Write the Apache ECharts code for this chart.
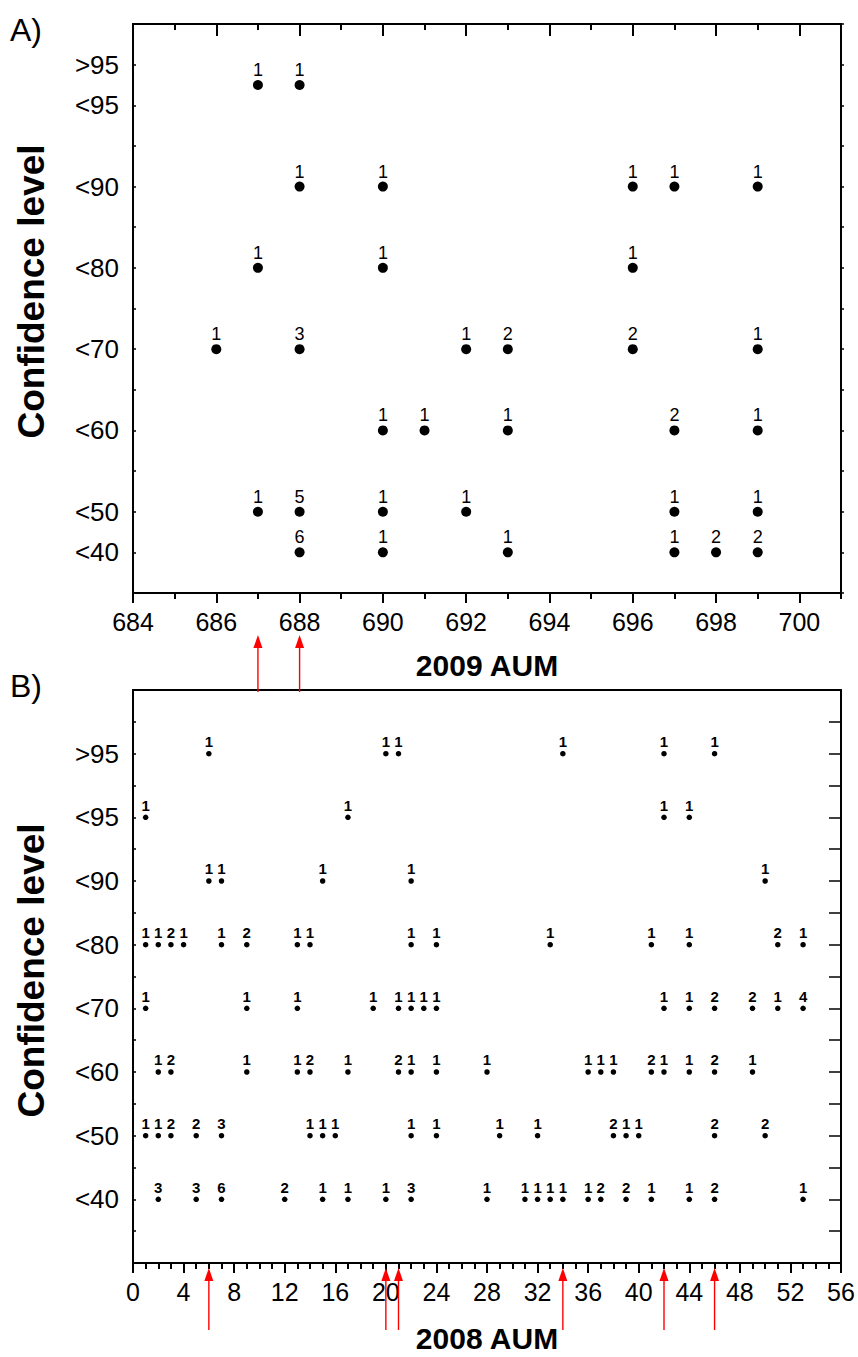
<!DOCTYPE html>
<html><head><meta charset="utf-8">
<script src="https://cdn.jsdelivr.net/npm/echarts@6/dist/echarts.min.js"></script>
<style>html,body{margin:0;padding:0;background:#fff}#c{width:858px;height:1357px}</style>
</head><body><div id="c"></div>
<script>
// ---------- data ----------
const yLabelValuesA = [1, 2, 4, 6, 8, 10, 12, 13];
const yLabelTextsA  = ['<40', '<50', '<60', '<70', '<80', '<90', '<95', '>95'];
const yLabelValuesB = [1, 2, 3, 4, 5, 6, 7, 8];
const yLabelTextsB  = ['<40', '<50', '<60', '<70', '<80', '<90', '<95', '>95'];

const xMajorA = [684, 686, 688, 690, 692, 694, 696, 698, 700];
const xMinorA = [685, 687, 689, 691, 693, 695, 697, 699, 701];
const xMajorB = [0, 4, 8, 12, 16, 20, 24, 28, 32, 36, 40, 44, 48, 52, 56];
const xMinorB = [1,2,3,5,6,7,9,10,11,13,14,15,17,18,19,21,22,23,25,26,27,29,30,31,33,34,35,37,38,39,41,42,43,45,46,47,49,50,51,53,54,55];

// [AUM, confidence row, count]
const points2009 = [
  [687,12.5,1],[688,12.5,1],
  [688,10,1],[690,10,1],[696,10,1],[697,10,1],[699,10,1],
  [687,8,1],[690,8,1],[696,8,1],
  [686,6,1],[688,6,3],[692,6,1],[693,6,2],[696,6,2],[699,6,1],
  [690,4,1],[691,4,1],[693,4,1],[697,4,2],[699,4,1],
  [687,2,1],[688,2,5],[690,2,1],[692,2,1],[697,2,1],[699,2,1],
  [688,1,6],[690,1,1],[693,1,1],[697,1,1],[698,1,2],[699,1,2]
];
const arrows2009 = [687, 688];

const points2008 = [
  [6,8,1],[20,8,1],[21,8,1],[34,8,1],[42,8,1],[46,8,1],
  [1,7,1],[17,7,1],[42,7,1],[44,7,1],
  [6,6,1],[7,6,1],[15,6,1],[22,6,1],[50,6,1],
  [1,5,1],[2,5,1],[3,5,2],[4,5,1],[7,5,1],[9,5,2],[13,5,1],[14,5,1],[22,5,1],[24,5,1],[33,5,1],[41,5,1],[44,5,1],[51,5,2],[53,5,1],
  [1,4,1],[9,4,1],[13,4,1],[19,4,1],[21,4,1],[22,4,1],[23,4,1],[24,4,1],[42,4,1],[44,4,1],[46,4,2],[49,4,2],[51,4,1],[53,4,4],
  [2,3,1],[3,3,2],[9,3,1],[13,3,1],[14,3,2],[17,3,1],[21,3,2],[22,3,1],[24,3,1],[28,3,1],[36,3,1],[37,3,1],[38,3,1],[41,3,2],[42,3,1],[44,3,1],[46,3,2],[49,3,1],
  [1,2,1],[2,2,1],[3,2,2],[5,2,2],[7,2,3],[14,2,1],[15,2,1],[16,2,1],[22,2,1],[24,2,1],[29,2,1],[32,2,1],[38,2,2],[39,2,1],[40,2,1],[46,2,2],[50,2,2],
  [2,1,3],[5,1,3],[7,1,6],[12,1,2],[15,1,1],[17,1,1],[20,1,1],[22,1,3],[28,1,1],[31,1,1],[32,1,1],[33,1,1],[34,1,1],[36,1,1],[37,1,2],[39,1,2],[41,1,1],[44,1,1],[46,1,2],[53,1,1]
];
const arrows2008 = [6, 20, 21, 34, 42, 46];

// ---------- chart ----------
const FONT = '"Liberation Sans", Arial, sans-serif';
const BLACK = '#000';
function axLine() { return {show: true, onZero: false, lineStyle: {color: BLACK, width: 2}}; }

function xAxisDef(grid, min, max, pos, ticks, len, inside, labels, extra) {
  return Object.assign({
    type: 'value', gridIndex: grid, min: min, max: max, position: pos,
    axisLine: axLine(), splitLine: {show: false},
    axisTick: {show: ticks.length > 0, inside: inside, length: len, customValues: ticks, lineStyle: {color: BLACK, width: 2}},
    axisLabel: labels ? {show: true, customValues: labels, color: BLACK, fontSize: 25, fontFamily: FONT, margin: 16} : {show: false}
  }, extra || {});
}

function yAxisDef(grid, min, max, pos, interval, len, inside, vals, texts, extra) {
  return Object.assign({
    type: 'value', gridIndex: grid, min: min, max: max, interval: interval, position: pos,
    axisLine: axLine(), splitLine: {show: false},
    axisTick: {show: true, inside: inside, length: len, lineStyle: {color: BLACK, width: 1.5}},
    axisLabel: vals ? {show: true, customValues: vals, color: BLACK, fontSize: 26, fontFamily: FONT, margin: 14,
      formatter: function (v) { const i = vals.indexOf(v); return i >= 0 ? texts[i] : ''; }} : {show: false}
  }, extra || {});
}

function arrowRender(tipOff, endOff) {
  return function (params, api) {
    const p = api.coord([api.value(0), api.value(1)]);
    const x = p[0], y0 = p[1];
    const head = 13, hw = 4.5;
    return {type: 'group', children: [
      {type: 'line', shape: {x1: x, y1: y0 + tipOff + head - 1, x2: x, y2: y0 + endOff}, style: {stroke: '#ff0000', lineWidth: 1.4}},
      {type: 'polygon', shape: {points: [[x, y0 + tipOff], [x - hw, y0 + tipOff + head], [x + hw, y0 + tipOff + head]]}, style: {fill: '#ff0000'}}
    ]};
  };
}

const nameStyleY = {fontSize: 37, fontWeight: 'bold', color: BLACK, fontFamily: FONT};
const nameStyleX = {fontSize: 30, fontWeight: 'bold', color: BLACK, fontFamily: FONT};

const option = {
  animation: false,
  backgroundColor: '#fff',
  graphic: [
    {type: 'text', left: 10, top: 14, style: {text: 'A)', fontSize: 32, fill: BLACK, fontFamily: FONT}},
    {type: 'text', left: 10, top: 670, style: {text: 'B)', fontSize: 32, fill: BLACK, fontFamily: FONT}}
  ],
  grid: [
    {left: 133, right: 17, top: 24, height: 569},
    {left: 133, right: 17, top: 690, height: 573}
  ],
  xAxis: [
    xAxisDef(0, 684, 701, 'bottom', xMajorA, 10, false, xMajorA,
      {name: '2009 AUM', nameLocation: 'middle', nameGap: 57, nameTextStyle: nameStyleX}),
    xAxisDef(0, 684, 701, 'bottom', xMinorA, 6, false, null),
    xAxisDef(0, 684, 701, 'top', xMajorA, 12, true, null),
    xAxisDef(0, 684, 701, 'top', xMinorA, 6, true, null),
    xAxisDef(1, 0, 56, 'bottom', xMajorB, 10, false, xMajorB,
      {name: '2008 AUM', nameLocation: 'middle', nameGap: 60, nameTextStyle: nameStyleX}),
    xAxisDef(1, 0, 56, 'bottom', xMinorB, 6, false, null),
    xAxisDef(1, 0, 56, 'top', [], 0, true, null)
  ],
  yAxis: [
    yAxisDef(0, 0, 14, 'left', 1, 3, true, yLabelValuesA, yLabelTextsA,
      {name: 'Confidence level', nameLocation: 'middle', nameGap: 83, nameRotate: 90,
       nameTextStyle: Object.assign({padding: [0, 0, 0, 34]}, nameStyleY)}),
    yAxisDef(0, 0, 14, 'right', 1, 3, false, null, null),
    yAxisDef(1, 0, 9, 'left', 0.5, 3, true, yLabelValuesB, yLabelTextsB,
      {name: 'Confidence level', nameLocation: 'middle', nameGap: 83, nameRotate: 90,
       nameTextStyle: Object.assign({padding: [0, 0, 0, 12]}, nameStyleY)}),
    yAxisDef(1, 0, 9, 'right', 0.5, 12, true, null, null)
  ],
  series: [
    {
      type: 'scatter', xAxisIndex: 0, yAxisIndex: 0, data: points2009,
      symbol: 'circle', symbolSize: 10, itemStyle: {color: BLACK, opacity: 1},
      label: {show: true, position: 'top', distance: 1, color: BLACK, opacity: 1, fontSize: 18, lineHeight: 18, fontFamily: FONT,
        formatter: function (p) { return String(p.value[2]); }}
    },
    {
      type: 'scatter', xAxisIndex: 4, yAxisIndex: 2, data: points2008,
      symbol: 'circle', symbolSize: 5.5, itemStyle: {color: BLACK, opacity: 1},
      label: {show: true, position: 'top', distance: 2, color: BLACK, opacity: 1, fontSize: 15, lineHeight: 15, fontWeight: 'bold', fontFamily: FONT,
        formatter: function (p) { return String(p.value[2]); }}
    },
    {
      type: 'custom', xAxisIndex: 0, yAxisIndex: 0, clip: false, z: 10,
      data: arrows2009.map(function (x) { return [x, 0]; }),
      renderItem: arrowRender(42, 99)
    },
    {
      type: 'custom', xAxisIndex: 4, yAxisIndex: 2, clip: false, z: 10,
      data: arrows2008.map(function (x) { return [x, 0]; }),
      renderItem: arrowRender(5, 67)
    }
  ]
};

const chart = echarts.init(document.getElementById('c'), null, {renderer: 'svg'});
chart.setOption(option);
</script>
</body></html>
